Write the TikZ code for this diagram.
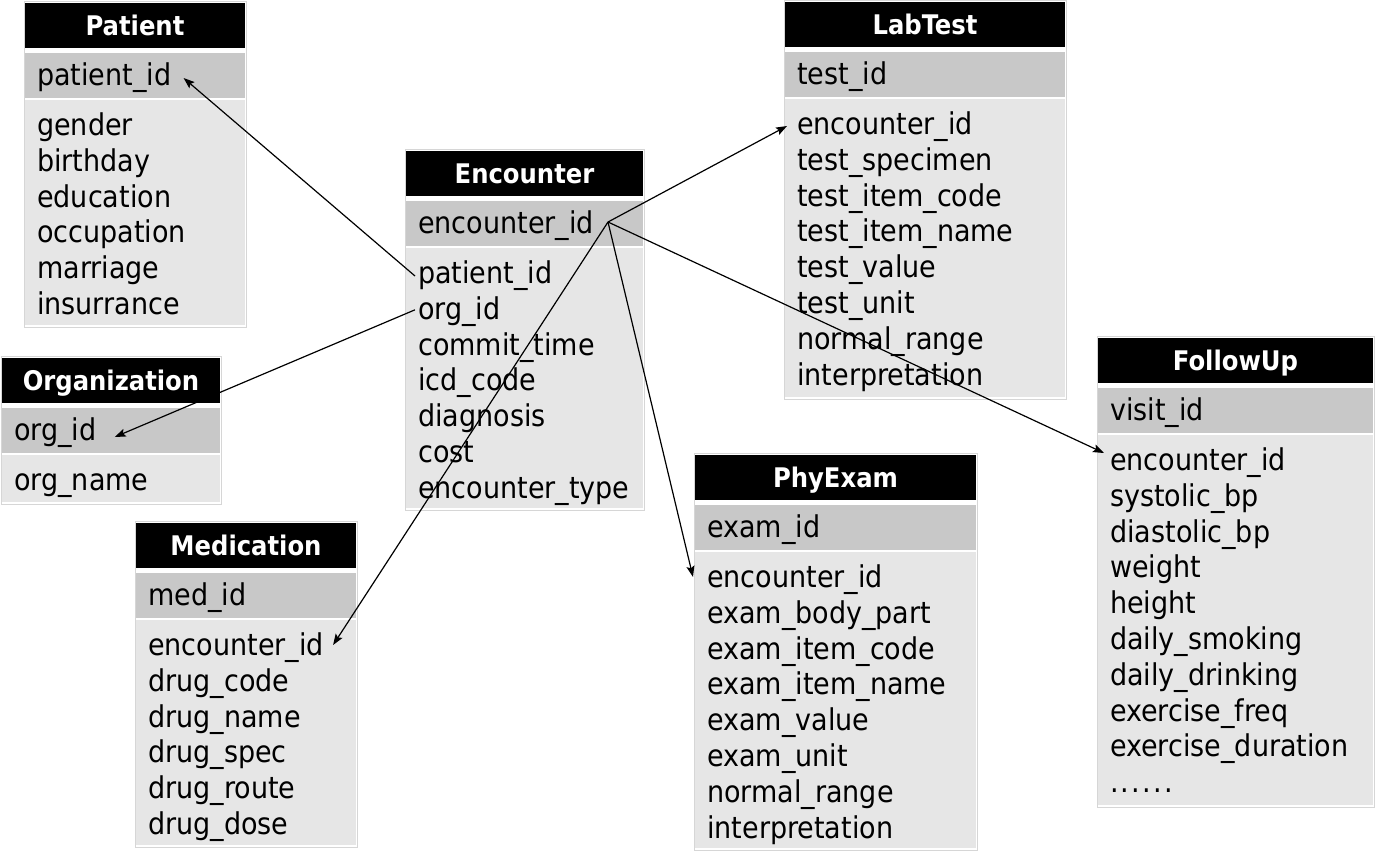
\documentclass[tikz,border=0pt]{standalone}
\usepackage{fontspec}
\setmainfont{DejaVu Sans Condensed}
\usetikzlibrary{arrows.meta}
\definecolor{keygray}{HTML}{C8C8C8}
\definecolor{bodygray}{HTML}{E6E6E6}
\definecolor{framegray}{HTML}{D6D6D6}
\newcommand{\sixdots}{.\kern2.2pt.\kern2.2pt.\kern2.2pt.\kern2.2pt.\kern2.2pt.}
\tikzset{
  fld/.style={anchor=west, inner sep=3pt, font=\fontsize{30}{36}\selectfont, text height=26pt, text depth=5pt},
  ttl/.style={font=\bfseries\fontsize{27}{32}\selectfont, text=white, inner sep=0pt, text height=20pt, text depth=0pt},
  link/.style={line width=1.2pt, -{Stealth[length=11pt,width=8pt,inset=2pt]}},
}
% #1 id, #2 title, #3 x0, #4 x1, #5 y0, #6 key, #7 fields, #8 bottom
\newcommand{\erdtab}[8]{%
  \path[fill=white, draw=framegray, line width=1pt] (#3-1,#5-2) rectangle (#4+1,#8+2);
  \fill[black] (#3,#5) rectangle (#4,#5+45);
  \fill[keygray] (#3,#5+50) rectangle (#4,#5+95);
  \fill[bodygray] (#3,#5+97) rectangle (#4,#8);
  \node[ttl] (#1-t) at ({(#3+#4)/2},#5+22) {#2};
  \node[fld] (#1-k) at (#3+9,#5+72) {#6};
  \foreach \f [count=\i] in {#7} {\node[fld] (#1-\i) at (#3+9,{#5+122+(\i-1)*35.8}) {\f};}
}
\begin{document}
\begin{tikzpicture}[x=1pt,y=-1pt]
\useasboundingbox (0,0) rectangle (1375,852);
\erdtab{pat}{Patient}{25}{245}{3}{patient\_id}{gender,birthday,education,occupation,marriage,insurrance}{325}
\erdtab{enc}{Encounter}{406}{643}{151}{encounter\_id}{patient\_id,org\_id,commit\_time,icd\_code,diagnosis,cost,encounter\_type}{508}
\erdtab{lab}{LabTest}{785}{1065}{2}{test\_id}{encounter\_id,test\_specimen,test\_item\_code,test\_item\_name,test\_value,test\_unit,normal\_range,interpretation}{397}
\erdtab{org}{Organization}{2}{220}{358}{org\_id}{org\_name}{502}
\erdtab{med}{Medication}{136}{356}{523}{med\_id}{encounter\_id,drug\_code,drug\_name,drug\_spec,drug\_route,drug\_dose}{845}
\erdtab{phy}{PhyExam}{695}{976}{455}{exam\_id}{encounter\_id,exam\_body\_part,exam\_item\_code,exam\_item\_name,exam\_value,exam\_unit,normal\_range,interpretation}{848}
\erdtab{fol}{FollowUp}{1098}{1373}{338}{visit\_id}{encounter\_id,systolic\_bp,diastolic\_bp,weight,height,daily\_smoking,daily\_drinking,exercise\_freq,exercise\_duration,\sixdots}{805}
\coordinate (hub) at (608,222);
\draw[link] ([yshift=-3pt]enc-1.west) -- ([xshift=9pt,yshift=-3pt]pat-k.east);
\draw[link] ([yshift=-1pt]enc-2.west) -- ([xshift=15pt,yshift=-7pt]org-k.east);
\draw[link] (hub) -- ([xshift=-7pt,yshift=-2pt]lab-1.west);
\draw[link] (hub) -- ([xshift=-3pt,yshift=7pt]fol-1.west);
\draw[link] (hub) -- ([xshift=-11pt]phy-1.west);
\draw[link] (hub) -- ([xshift=6pt]med-1.east);
\end{tikzpicture}
\end{document}
